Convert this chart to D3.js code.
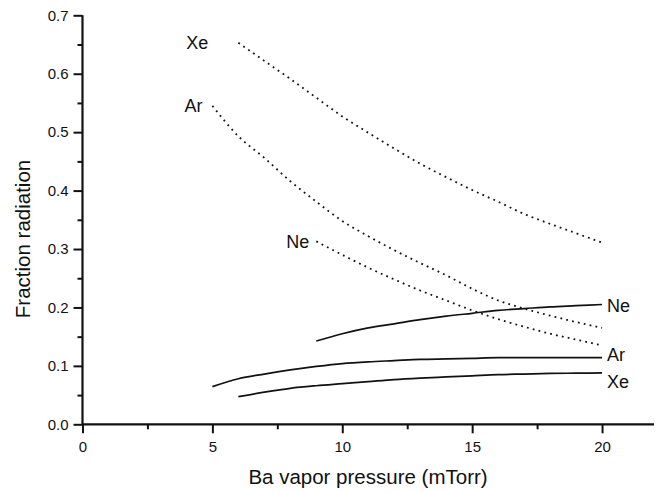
<!DOCTYPE html>
<html>
<head>
<meta charset="utf-8">
<script src="https://cdn.jsdelivr.net/npm/d3@7/dist/d3.min.js"></script>
<style>
  html, body { margin: 0; padding: 0; background: #fff; }
  svg { display: block; font-family: "Liberation Sans", Arial, Helvetica, sans-serif; }
</style>
</head>
<body>
<svg id="chart" width="659" height="493"></svg>
<script>
// Ba vapor pressure (mTorr) sample points for each gas
const pressureXe = [6, 7, 8, 9, 10, 11, 12, 13, 14, 15, 16, 17, 18, 19, 20];
const pressureAr = [5, 6, 7, 8, 9, 10, 11, 12, 13, 14, 15, 16, 17, 18, 19, 20];
const pressureNe = [9, 10, 11, 12, 13, 14, 15, 16, 17, 18, 19, 20];

// Dotted curves (upper family)
const xeDotted = [0.653, 0.622, 0.591, 0.559, 0.527, 0.499, 0.472, 0.446, 0.423, 0.401, 0.381, 0.360, 0.343, 0.327, 0.311];
const arDotted = [0.545, 0.493, 0.456, 0.416, 0.381, 0.348, 0.322, 0.298, 0.276, 0.255, 0.232, 0.212, 0.198, 0.186, 0.175, 0.165];
const neDotted = [0.313, 0.290, 0.268, 0.248, 0.229, 0.212, 0.195, 0.180, 0.167, 0.155, 0.145, 0.135];

// Solid curves (lower family)
const neSolid = [0.1426, 0.155, 0.165, 0.172, 0.179, 0.185, 0.190, 0.195, 0.198, 0.201, 0.203, 0.205];
const arSolid = [0.0644, 0.078, 0.086, 0.093, 0.099, 0.104, 0.107, 0.109, 0.111, 0.112, 0.113, 0.114, 0.114, 0.114, 0.114, 0.114];
const xeSolid = [0.0473, 0.055, 0.0616, 0.066, 0.0695, 0.073, 0.0765, 0.079, 0.081, 0.083, 0.085, 0.086, 0.087, 0.0875, 0.088];

// Axis ticks
const xMajorTicks = [0, 5, 10, 15, 20];
const xMinorTicks = [2.5, 7.5, 12.5, 17.5];
const yMajorTicks = [0, 0.1, 0.2, 0.3, 0.4, 0.5, 0.6, 0.7];
const yMinorTicks = [0.05, 0.15, 0.25, 0.35, 0.45, 0.55, 0.65];

const xTitle = "Ba vapor pressure (mTorr)";
const yTitle = "Fraction radiation";

const svg = d3.select("#chart");
const x = d3.scaleLinear().domain([0, 22]).range([82.5, 654]);
const y = d3.scaleLinear().domain([0, 0.7]).range([424.3, 15.3]);

const ink = "#111";

// Curves
const line = d3.line()
  .x(d => x(d[0]))
  .y(d => y(d[1]))
  .curve(d3.curveMonotoneX);

const series = [
  { name: "Xe", xs: pressureXe, ys: xeDotted, dotted: true },
  { name: "Ar", xs: pressureAr, ys: arDotted, dotted: true },
  { name: "Ne", xs: pressureNe, ys: neDotted, dotted: true },
  { name: "Ne", xs: pressureNe, ys: neSolid, dotted: false },
  { name: "Ar", xs: pressureAr, ys: arSolid, dotted: false },
  { name: "Xe", xs: pressureXe, ys: xeSolid, dotted: false }
];

svg.append("g").selectAll("path")
  .data(series)
  .join("path")
  .attr("d", s => line(s.xs.map((v, i) => [v, s.ys[i]])))
  .attr("fill", "none")
  .attr("stroke", ink)
  .attr("stroke-width", s => s.dotted ? 1.8 : 1.7)
  .attr("stroke-dasharray", s => s.dotted ? "1.8 4.2" : null);

// Curve labels: dotted ones sit left of the curve start, solid ones right of the curve end
const leftGap = { Xe: 30, Ar: 10, Ne: 7 };
const rightShift = { Ne: 0, Ar: -4, Xe: 8 };
const labelFont = 18;

svg.append("g").selectAll("text")
  .data(series)
  .join("text")
  .attr("font-size", labelFont)
  .attr("fill", ink)
  .each(function (s) {
    const t = d3.select(this).text(s.name);
    if (s.dotted) {
      t.attr("text-anchor", "end")
        .attr("x", x(s.xs[0]) - leftGap[s.name])
        .attr("y", y(s.ys[0]) + 6.5);
    } else {
      const n = s.xs.length - 1;
      t.attr("text-anchor", "start")
        .attr("x", x(s.xs[n]) + 5)
        .attr("y", y(s.ys[n]) + 7.5 + rightShift[s.name]);
    }
  });

// Axes
const xAxis = d3.axisBottom(x).tickValues(xMajorTicks).tickSize(9).tickPadding(8).tickFormat(d3.format("d"));
const xAxisMinor = d3.axisBottom(x).tickValues(xMinorTicks).tickSize(5).tickFormat("");
const yAxis = d3.axisLeft(y).tickValues(yMajorTicks).tickSize(9).tickPadding(5).tickFormat(d3.format(".1f"));
const yAxisMinor = d3.axisLeft(y).tickValues(yMinorTicks).tickSize(5).tickFormat("");

function styleAxis(g) {
  g.select(".domain").attr("stroke", ink).attr("stroke-width", 2.2);
  g.selectAll(".tick line").attr("stroke", ink).attr("stroke-width", 2);
  g.selectAll(".tick text").attr("fill", ink).attr("font-size", 15)
    .attr("font-family", "'Liberation Sans', Arial, sans-serif");
}

svg.append("g").attr("transform", `translate(0,${y(0)})`).call(xAxisMinor).call(styleAxis)
  .select(".domain").remove();
svg.append("g").attr("transform", `translate(0,${y(0)})`).call(xAxis).call(styleAxis)
  .select(".domain").attr("d", `M${x(0)},0H${x(22)}`);
svg.append("g").attr("transform", `translate(${x(0)},0)`).call(yAxisMinor).call(styleAxis)
  .select(".domain").remove();
svg.append("g").attr("transform", `translate(${x(0)},0)`).call(yAxis).call(styleAxis)
  .select(".domain").attr("d", `M0,${y(0)}V${y(0.7)}`);

// Axis titles
svg.append("text")
  .attr("x", 368).attr("y", 484)
  .attr("text-anchor", "middle")
  .attr("font-size", 20.5)
  .attr("fill", ink)
  .text(xTitle);

svg.append("text")
  .attr("transform", "translate(30,239) rotate(-90)")
  .attr("text-anchor", "middle")
  .attr("font-size", 20.5)
  .attr("fill", ink)
  .text(yTitle);
</script>
</body>
</html>
